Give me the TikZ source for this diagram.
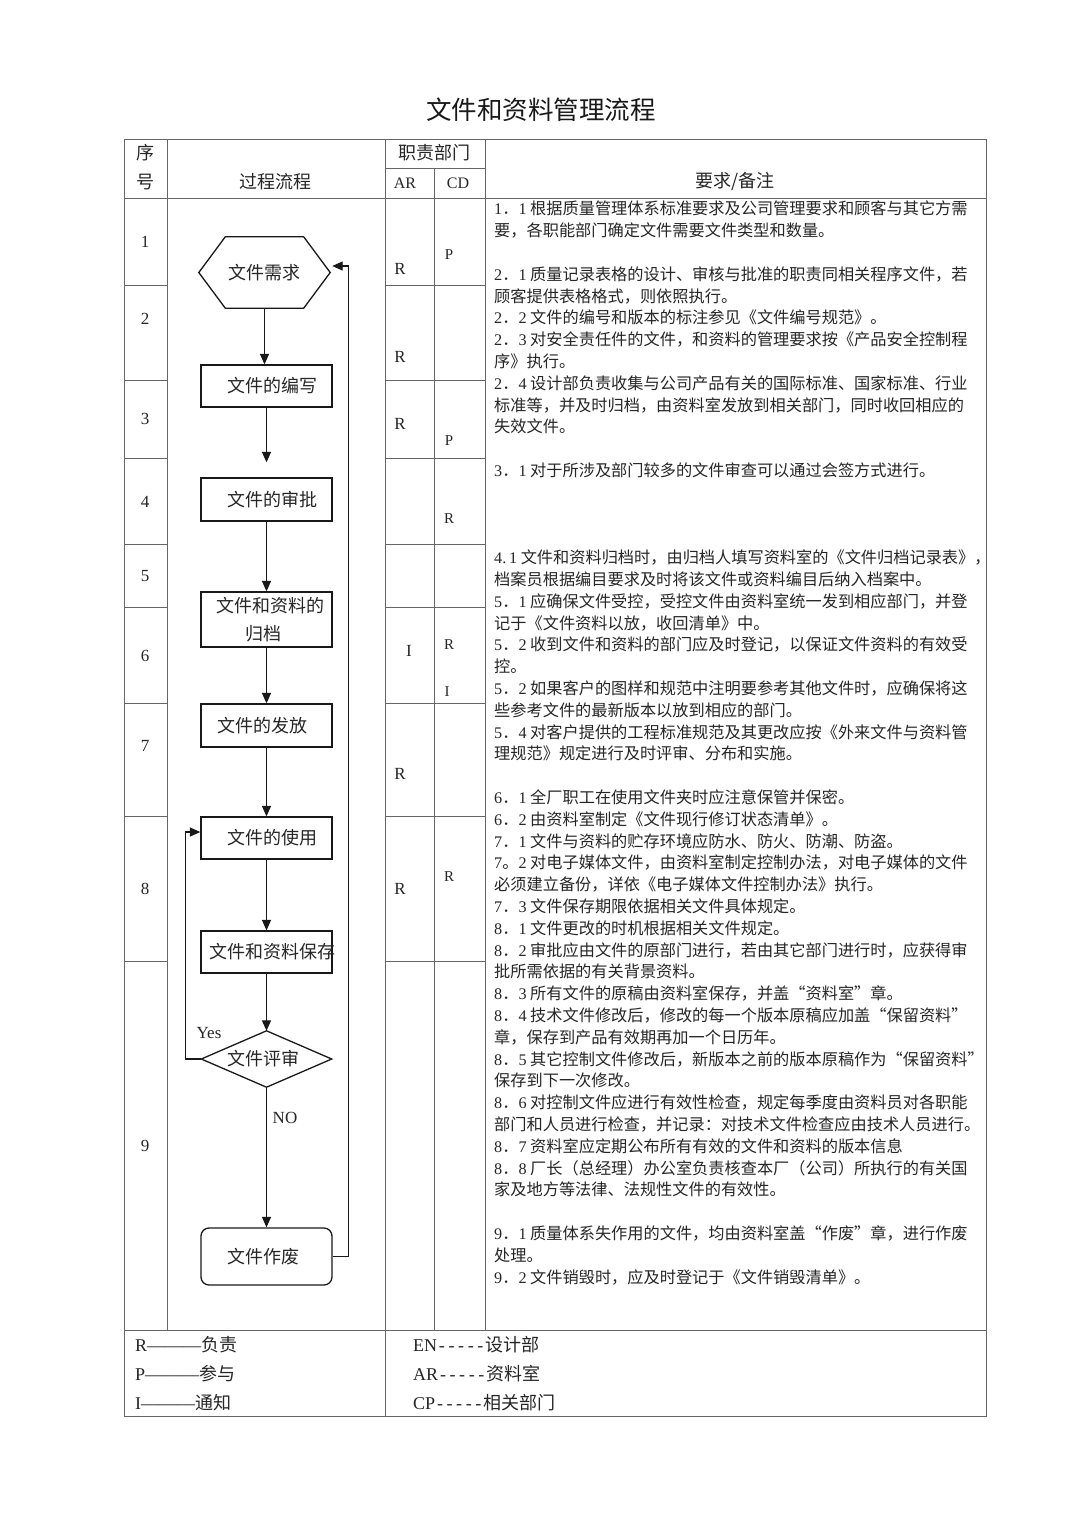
\documentclass[tikz,border=0pt]{standalone}
\usepackage{fontspec}
\setmainfont{Liberation Serif}
\newfontfamily\cjk{Noto Sans CJK SC}
\usetikzlibrary{arrows.meta,calc}
\newcommand\lat[1]{{\rmfamily #1}}
\newcommand\nn[2]{\lat{#1}．\lat{#2}}
\newcommand\hy{\makebox[9.6pt][c]{\lat{-}}}
\begin{document}
\begin{tikzpicture}[x=1pt,y=-1pt,
  tline/.style={draw=black!60,line width=0.9pt},
  fline/.style={draw=black!90,line width=1.3pt},
  farrow/.style={fline,-{Triangle[length=10.5pt,width=9pt]}},
  ctext/.style={inner sep=0pt,font=\cjk\fontsize{18}{28}\selectfont,text=black!85},
  fbox/.style={fline,rectangle,minimum width=131pt,inner sep=0pt,font=\cjk\fontsize{18}{28}\selectfont,text=black!85},
  ltext/.style={inner sep=0pt,font=\fontsize{17}{20}\selectfont,text=black!85},
  rtext/.style={inner sep=0pt,font=\fontsize{17}{20}\selectfont,text=black!85},
  stext/.style={inner sep=0pt,font=\fontsize{15}{18}\selectfont,text=black!85},
  legend/.style={inner sep=0pt,anchor=west,font=\fontsize{18}{20}\selectfont,text=black!85}]
\useasboundingbox[fill=white] (0,0) rectangle (1080,1527);

% title
\node[inner sep=0pt,font=\cjk\fontsize{25.5}{30}\selectfont,text=black!90] (title) at (541,110) {文件和资料管理流程};

% table grid
\draw[tline] (124,139) rectangle (986,1416);
\draw[tline] (124,198) -- (986,198);
\draw[tline] (124,1330) -- (986,1330);
\draw[tline] (167,139) -- (167,1330);
\draw[tline] (385,139) -- (385,1416);
\draw[tline] (434,168) -- (434,1330);
\draw[tline] (485,139) -- (485,1330);
\draw[tline] (385,168) -- (485,168);
\foreach \yy in {285,380,458,544,607,703,816,961} {
  \draw[tline] (124,\yy) -- (167,\yy);
  \draw[tline] (385,\yy) -- (485,\yy);
}

% header
\node[ctext] (hxu) at (145,153) {序};
\node[ctext] (hhao) at (145,182) {号};
\node[ctext] (hflow) at (275,182) {过程流程};
\node[ctext] (hdept) at (434,153) {职责部门};
\node[ltext,font=\fontsize{16}{18}\selectfont] (har) at (405,183) {AR};
\node[ltext,font=\fontsize{16}{18}\selectfont] (hcd) at (458,183) {CD};
\node[ctext] (hreq) at (735,182) {要求/备注};

% row numbers
\foreach \n/\yy in {1/242,2/319,3/419,4/502,5/576,6/656,7/746,8/889,9/1146}
  \node[ltext] (num\n) at (145,\yy) {\n};

% responsibilities
\node[rtext] (ar1) at (400,269) {R};
\node[stext] (cd1) at (449,255) {P};
\node[rtext] (ar2) at (400,357) {R};
\node[rtext] (ar3) at (400,424) {R};
\node[stext] (cd3) at (449,441) {P};
\node[stext] (cd4) at (449,519) {R};
\node[rtext] (ar6) at (409,651) {I};
\node[stext] (cd6a) at (449,645) {R};
\node[stext] (cd6b) at (447,692) {I};
\node[rtext] (ar7) at (400,774) {R};
\node[rtext] (ar8) at (400,889) {R};
\node[stext] (cd8) at (449,877) {R};

% flow chart
\node[ctext,minimum width=131pt,minimum height=71pt] (hex) at (264.5,272.5) {文件需求};
\draw[fline] (hex.west) -- ($(hex.north west)+(26.5,0)$) -- ($(hex.north east)+(-26.5,0)$)
  -- (hex.east) -- ($(hex.south east)+(-26.5,0)$) -- ($(hex.south west)+(26.5,0)$) -- cycle;
\node[fbox,minimum height=42pt] (b2) at (266.5,386) {\hspace*{11pt}文件的编写};
\node[fbox,minimum height=43pt] (b3) at (266.5,499.5) {\hspace*{11pt}文件的审批};
\node[fbox,minimum height=55pt,align=left] (b4) at (266.5,619.5) {\hspace*{8pt}文件和资料的\\\hspace*{37pt}归档};
\node[fbox,minimum height=43pt] (b5) at (266.5,725.5) {文件的发放\hspace*{9pt}};
\node[fbox,minimum height=42pt] (b6) at (266.5,838) {\hspace*{11pt}文件的使用};
\node[fbox,minimum height=42pt] (b7) at (266.5,952) {};
\node[ctext] (t7) at (272,952) {文件和资料保存};
\node[ctext,minimum width=130pt,minimum height=56pt] (dia) at (266.5,1059) {\hspace*{-7pt}文件评审};
\draw[fline] (dia.west) -- (dia.north) -- (dia.east) -- (dia.south) -- cycle;
\node[fbox,rounded corners=8pt,minimum height=57pt] (zf) at (266.5,1256.5) {文件作废\hspace*{7pt}};

\coordinate (b3in) at ($(b3.north)+(0,-15)$);
\coordinate (b6in) at ($(b6.west)+(0,-6)$);
\coordinate (hexin) at ($(hex.east)+(2,-6.5)$);

\draw[farrow] (hex.south) -- (hex.south |- b2.north);
\draw[farrow] (b2.south) -- (b3in);
\draw[farrow] (b3.south) -- (b4.north);
\draw[farrow] (b4.south) -- (b5.north);
\draw[farrow] (b5.south) -- (b6.north);
\draw[farrow] (b6.south) -- (b7.north);
\draw[farrow] (b7.south) -- (dia.north);
\draw[farrow] (dia.south) -- (zf.north);
\draw[farrow] (dia.west) -- ++(-16,0) |- (b6in);
\draw[farrow] (zf.east) -- ++(16,0) |- (hexin);

\node[ltext] (yes) at (209,1033) {Yes};
\node[ltext] (no) at (285,1118) {NO};

% remarks
\node[anchor=north west,inner sep=0pt,align=left,font=\cjk\fontsize{16.2}{21.8}\selectfont,text=black!85] (rmk) at (494,201) {%
\nn11 根据质量管理体系标准要求及公司管理要求和顾客与其它方需\\
要，各职能部门确定文件需要文件类型和数量。\\[21.8pt]
\nn21 质量记录表格的设计、审核与批准的职责同相关程序文件，若\\
顾客提供表格格式，则依照执行。\\
\nn22 文件的编号和版本的标注参见《文件编号规范》。\\
\nn23 对安全责任件的文件，和资料的管理要求按《产品安全控制程\\
序》执行。\\
\nn24 设计部负责收集与公司产品有关的国际标准、国家标准、行业\\
标准等，并及时归档，由资料室发放到相关部门，同时收回相应的\\
失效文件。\\[21.8pt]
\nn31 对于所涉及部门较多的文件审查可以通过会签方式进行。\\[65.4pt]
\lat{4.\,1} 文件和资料归档时，由归档人填写资料室的《文件归档记录表》，\\
档案员根据编目要求及时将该文件或资料编目后纳入档案中。\\
\nn51 应确保文件受控，受控文件由资料室统一发到相应部门，并登\\
记于《文件资料以放，收回清单》中。\\
\nn52 收到文件和资料的部门应及时登记，以保证文件资料的有效受\\
控。\\
\nn52 如果客户的图样和规范中注明要参考其他文件时，应确保将这\\
些参考文件的最新版本以放到相应的部门。\\
\nn54 对客户提供的工程标准规范及其更改应按《外来文件与资料管\\
理规范》规定进行及时评审、分布和实施。\\[21.8pt]
\nn61 全厂职工在使用文件夹时应注意保管并保密。\\
\nn62 由资料室制定《文件现行修订状态清单》。\\
\nn71 文件与资料的贮存环境应防水、防火、防潮、防盗。\\
\lat{7}。\lat{2} 对电子媒体文件，由资料室制定控制办法，对电子媒体的文件\\
必须建立备份，详依《电子媒体文件控制办法》执行。\\
\nn73 文件保存期限依据相关文件具体规定。\\
\nn81 文件更改的时机根据相关文件规定。\\
\nn82 审批应由文件的原部门进行，若由其它部门进行时，应获得审\\
批所需依据的有关背景资料。\\
\nn83 所有文件的原稿由资料室保存，并盖“资料室”章。\\
\nn84 技术文件修改后，修改的每一个版本原稿应加盖“保留资料”\\
章，保存到产品有效期再加一个日历年。\\
\nn85 其它控制文件修改后，新版本之前的版本原稿作为“保留资料”\\
保存到下一次修改。\\
\nn86 对控制文件应进行有效性检查，规定每季度由资料员对各职能\\
部门和人员进行检查，并记录：对技术文件检查应由技术人员进行。\\
\nn87 资料室应定期公布所有有效的文件和资料的版本信息\\
\nn88 厂长（总经理）办公室负责核查本厂（公司）所执行的有关国\\
家及地方等法律、法规性文件的有效性。\\[21.8pt]
\nn91 质量体系失作用的文件，均由资料室盖“作废”章，进行作废\\
处理。\\
\nn92 文件销毁时，应及时登记于《文件销毁清单》。};

% legend
\node[legend] (lg1) at (135,1345) {R———{\cjk 负责}};
\node[legend] (lg2) at (135,1374) {P———{\cjk 参与}};
\node[legend] (lg3) at (135,1403) {I———{\cjk 通知}};
\node[legend] (lg4) at (413,1345) {EN\hy\hy\hy\hy\hy{\cjk 设计部}};
\node[legend] (lg5) at (413,1374) {AR\hy\hy\hy\hy\hy{\cjk 资料室}};
\node[legend] (lg6) at (413,1403) {CP\hy\hy\hy\hy\hy{\cjk 相关部门}};
\end{tikzpicture}
\end{document}
